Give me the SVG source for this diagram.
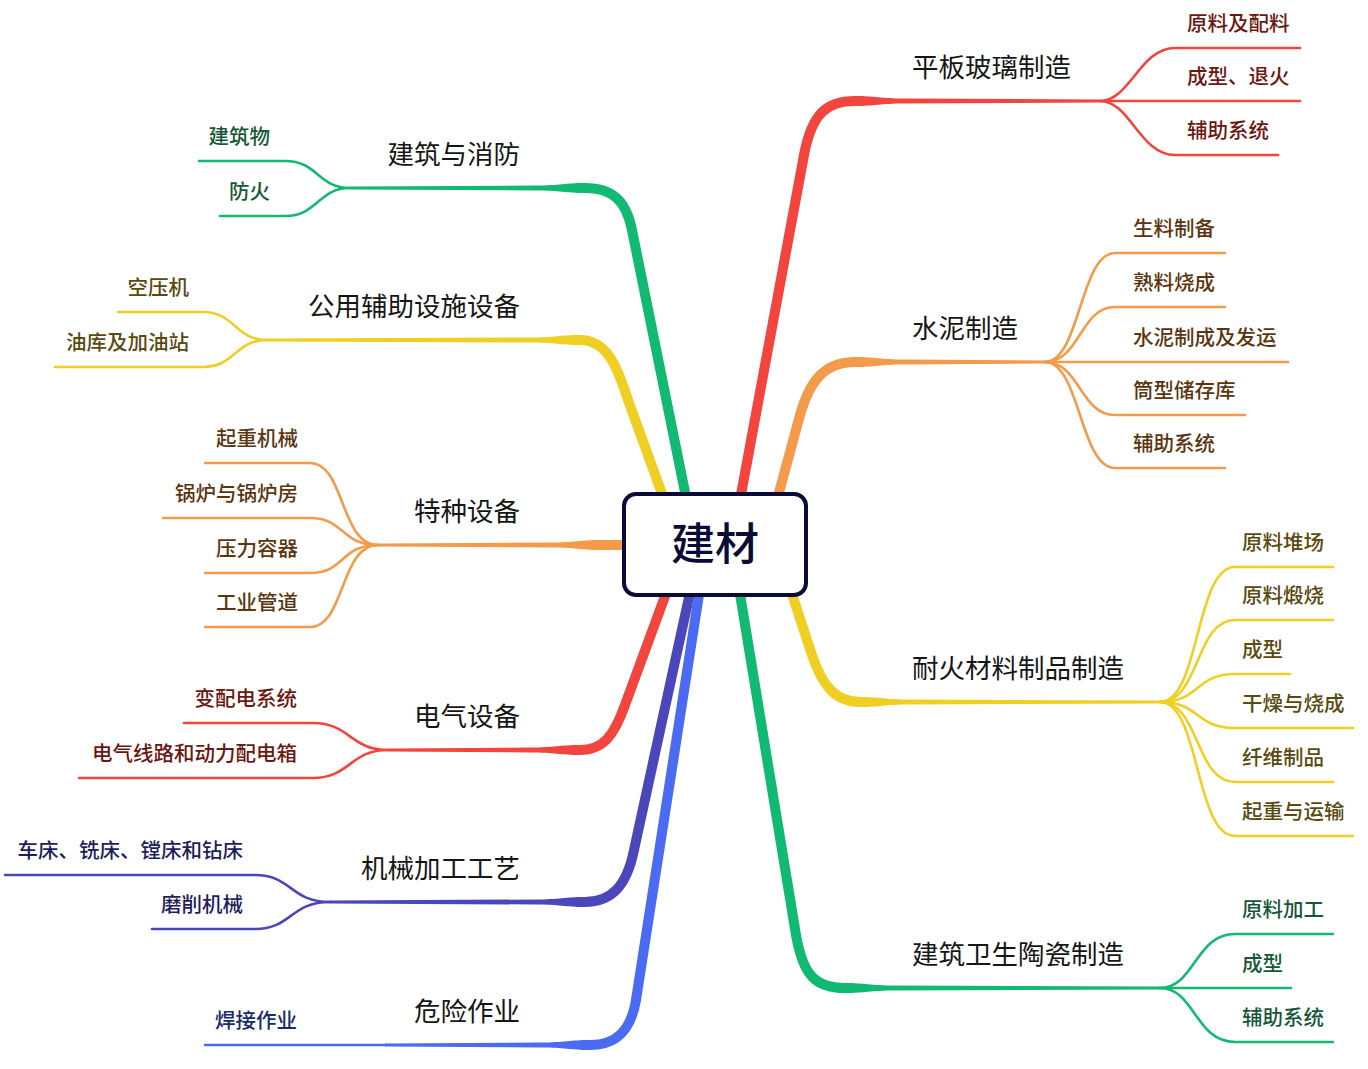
<svg xmlns="http://www.w3.org/2000/svg" width="1368" height="1069" viewBox="0 0 1368 1069">
<style>
text{font-family:"Noto Sans CJK SC","Noto Sans",sans-serif}
.l1{font-size:26.5px;fill:#161616}
.sub{font-size:20.5px;font-weight:500}
.end{text-anchor:end}
.thick{fill:none;stroke-width:10;stroke-linejoin:round}
.thin{fill:none;stroke-width:2.6;stroke-linecap:round}
.red{stroke:#f2453d}.redf{fill:#f2453d}
.org{stroke:#f39b4a}.orgf{fill:#f39b4a}
.yel{stroke:#f0cf24}.yelf{fill:#f0cf24}
.grn{stroke:#12b973}.grnf{fill:#12b973}
.pur{stroke:#4947b9}.purf{fill:#4947b9}
.blu{stroke:#4a6bf2}.bluf{fill:#4a6bf2}
.tred{fill:#6a1812}.torg{fill:#5a3510}.tyel{fill:#5a4a10}.tgrn{fill:#16573a}.tpur{fill:#1e1e5a}.tblu{fill:#1a2a6a}
</style>
<rect width="1368" height="1069" fill="#fff"/>
<g id="connectors">
  <path class="thick red" d="M740,500 L804,155 C812,112 828,101 855,101"/>
  <path class="redf" d="M855,96 C875,96 880,98.5 905,98.5 L1100,99.5 L1100,102.5 L905,103.5 C880,103.5 875,106 855,106 Z"/>
  <path class="thick org" d="M777,500 L800,415 C810,380 825,362 855,362"/>
  <path class="orgf" d="M855,357 C875,357 880,359.5 905,359.5 L1045,360.5 L1045,363.5 L905,364.5 C880,364.5 875,367 855,367 Z"/>
  <path class="thick yel" d="M790,588 L812,655 C822,685 835,702 860,702"/>
  <path class="yelf" d="M860,697 C880,697 885,699.5 910,699.5 L1160,700.5 L1160,703.5 L910,704.5 C885,704.5 880,707 860,707 Z"/>
  <path class="thick grn" d="M739,588 L796,935 C803,975 815,988 845,988"/>
  <path class="grnf" d="M845,983 C865,983 870,985.5 895,985.5 L1160,986.5 L1160,989.5 L895,990.5 C870,990.5 865,993 845,993 Z"/>
  <path class="thick grn" d="M687,502 L632,230 C626,200 612,188 585,188"/>
  <path class="grnf" d="M585,183 C565,183 560,185.5 535,185.5 L350,186.5 L350,189.5 L535,190.5 C560,190.5 565,193 585,193 Z"/>
  <path class="thick yel" d="M665,502 L628,400 C616,362 605,340 580,340"/>
  <path class="yelf" d="M580,335 C560,335 555,337.5 530,337.5 L267,338.5 L267,341.5 L530,342.5 C555,342.5 560,345 580,345 Z"/>
  <path class="thick org" d="M632,545 L600,545"/>
  <path class="orgf" d="M600,540 C580,540 575,542.5 550,542.5 L378,543.5 L378,546.5 L550,547.5 C575,547.5 580,550 600,550 Z"/>
  <path class="thick red" d="M668,588 L625,705 C614,736 603,750 580,750"/>
  <path class="redf" d="M580,745 C560,745 555,747.5 530,747.5 L388,748.5 L388,751.5 L530,752.5 C555,752.5 560,755 580,755 Z"/>
  <path class="thick pur" d="M691,588 L634,850 C627,885 612,902 585,902"/>
  <path class="purf" d="M585,897 C565,897 560,899.5 535,899.5 L330,900.5 L330,903.5 L535,904.5 C560,904.5 565,907 585,907 Z"/>
  <path class="thick blu" d="M700,588 L636,1000 C631,1030 617,1045 590,1045"/>
  <path class="bluf" d="M590,1040 C570,1040 565,1042.5 540,1042.5 L385,1043.5 L385,1046.5 L540,1047.5 C565,1047.5 570,1050 590,1050 Z"/>
  <path class="thin red" d="M1100,101 C1130,101 1140,48 1175,48 L1300,48"/>
  <path class="thin red" d="M1100,101 L1300,101"/>
  <path class="thin red" d="M1100,101 C1130,101 1140,155 1175,155 L1278,155"/>
  <path class="thin org" d="M1045,362 C1080,362 1080,253 1115,253 L1225,253"/>
  <path class="thin org" d="M1045,362 C1080,362 1080,307 1115,307 L1225,307"/>
  <path class="thin org" d="M1045,362 L1288,362"/>
  <path class="thin org" d="M1045,362 C1080,362 1080,415 1115,415 L1245,415"/>
  <path class="thin org" d="M1045,362 C1080,362 1080,468 1115,468 L1225,468"/>
  <path class="thin yel" d="M1160,702 C1200,702 1195,567 1235,567 L1333,567"/>
  <path class="thin yel" d="M1160,702 C1200,702 1195,620 1235,620 L1333,620"/>
  <path class="thin yel" d="M1160,702 C1200,702 1195,674 1235,674 L1290,674"/>
  <path class="thin yel" d="M1160,702 C1200,702 1195,728 1235,728 L1353,728"/>
  <path class="thin yel" d="M1160,702 C1200,702 1195,782 1235,782 L1333,782"/>
  <path class="thin yel" d="M1160,702 C1200,702 1195,836 1235,836 L1353,836"/>
  <path class="thin grn" d="M1160,988 C1195,988 1195,934 1235,934 L1333,934"/>
  <path class="thin grn" d="M1160,988 L1291,988"/>
  <path class="thin grn" d="M1160,988 C1195,988 1195,1042 1235,1042 L1333,1042"/>
  <path class="thin grn" d="M350,188 C318,188 318,161 285,161 L199,161"/>
  <path class="thin grn" d="M350,188 C318,188 318,216 285,216 L220,216"/>
  <path class="thin yel" d="M267,340 C235,340 235,312 203,312 L118,312"/>
  <path class="thin yel" d="M267,340 C235,340 235,367 203,367 L55,367"/>
  <path class="thin org" d="M378,545 C340,545 345,463 310,463 L205,463"/>
  <path class="thin org" d="M378,545 C340,545 345,518 310,518 L163,518"/>
  <path class="thin org" d="M378,545 C340,545 345,573 310,573 L205,573"/>
  <path class="thin org" d="M378,545 C340,545 345,627 310,627 L205,627"/>
  <path class="thin red" d="M388,750 C350,750 350,723 313,723 L184,723"/>
  <path class="thin red" d="M388,750 C350,750 350,778 313,778 L79,778"/>
  <path class="thin pur" d="M330,902 C290,902 292,875 255,875 L5,875"/>
  <path class="thin pur" d="M330,902 C290,902 292,929 255,929 L152,929"/>
  <path class="thin blu" d="M386,1045 L205,1045"/>
</g>
<g id="root">
  <rect x="624" y="494" width="182" height="101" rx="12" fill="#fff" stroke="#0b0b38" stroke-width="4"/>
  <text x="715" y="560" text-anchor="middle" font-size="44" font-weight="500" fill="#0b0b38">建材</text>
</g>
<g id="n-pingban"><text class="l1" x="912" y="77">平板玻璃制造</text>
  <text class="sub tred" x="1187" y="31">原料及配料</text>
  <text class="sub tred" x="1187" y="84">成型、退火</text>
  <text class="sub tred" x="1187" y="138">辅助系统</text></g>
<g id="n-shuini"><text class="l1" x="912" y="338">水泥制造</text>
  <text class="sub torg" x="1133" y="236">生料制备</text>
  <text class="sub torg" x="1133" y="290">熟料烧成</text>
  <text class="sub torg" x="1133" y="345">水泥制成及发运</text>
  <text class="sub torg" x="1133" y="398">筒型储存库</text>
  <text class="sub torg" x="1133" y="451">辅助系统</text></g>
<g id="n-naihuo"><text class="l1" x="912" y="678">耐火材料制品制造</text>
  <text class="sub tyel" x="1242" y="550">原料堆场</text>
  <text class="sub tyel" x="1242" y="603">原料煅烧</text>
  <text class="sub tyel" x="1242" y="657">成型</text>
  <text class="sub tyel" x="1242" y="711">干燥与烧成</text>
  <text class="sub tyel" x="1242" y="765">纤维制品</text>
  <text class="sub tyel" x="1242" y="819">起重与运输</text></g>
<g id="n-taoci"><text class="l1" x="912" y="964">建筑卫生陶瓷制造</text>
  <text class="sub tgrn" x="1242" y="917">原料加工</text>
  <text class="sub tgrn" x="1242" y="971">成型</text>
  <text class="sub tgrn" x="1242" y="1025">辅助系统</text></g>
<g id="n-xiaofang"><text class="l1 end" x="520" y="164">建筑与消防</text>
  <text class="sub tgrn end" x="270" y="144">建筑物</text>
  <text class="sub tgrn end" x="270" y="199">防火</text></g>
<g id="n-gongyong"><text class="l1 end" x="520" y="316">公用辅助设施设备</text>
  <text class="sub tyel end" x="189" y="295">空压机</text>
  <text class="sub tyel end" x="189" y="350">油库及加油站</text></g>
<g id="n-tezhong"><text class="l1 end" x="520" y="521">特种设备</text>
  <text class="sub torg end" x="298" y="446">起重机械</text>
  <text class="sub torg end" x="298" y="501">锅炉与锅炉房</text>
  <text class="sub torg end" x="298" y="556">压力容器</text>
  <text class="sub torg end" x="298" y="610">工业管道</text></g>
<g id="n-dianqi"><text class="l1 end" x="520" y="726">电气设备</text>
  <text class="sub tred end" x="297" y="706">变配电系统</text>
  <text class="sub tred end" x="297" y="761">电气线路和动力配电箱</text></g>
<g id="n-jixie"><text class="l1 end" x="520" y="878">机械加工工艺</text>
  <text class="sub tpur end" x="243" y="858">车床、铣床、镗床和钻床</text>
  <text class="sub tpur end" x="243" y="912">磨削机械</text></g>
<g id="n-weixian"><text class="l1 end" x="520" y="1021">危险作业</text>
  <text class="sub tblu end" x="297" y="1028">焊接作业</text></g>
</svg>
